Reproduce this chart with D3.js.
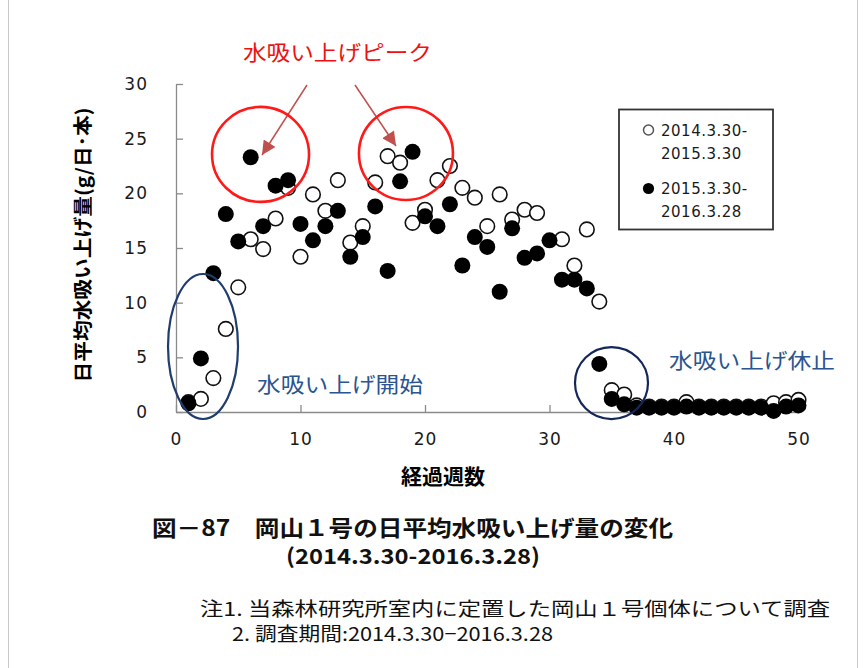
<!DOCTYPE html>
<html>
<head>
<meta charset="utf-8">
<script src="https://cdn.jsdelivr.net/npm/d3@7"></script>
<style>
  body { margin: 0; background: #ffffff; }
  svg { display: block; }
</style>
</head>
<body>
<div id="chart"></div>
<script>
// Weeks since start (経過週数)
const weeks = [1, 2, 3, 4, 5, 6, 7, 8, 9, 10,
  11, 12, 13, 14, 15, 16, 17, 18, 19, 20,
  21, 22, 23, 24, 25, 26, 27, 28, 29, 30,
  31, 32, 33, 34, 35, 36, 37, 38, 39, 40,
  41, 42, 43, 44, 45, 46, 47, 48, 49, 50];

// 2014.3.30-2015.3.30 (open circles), g/日･本
const water2014 = [0.9, 1.2, 3.1, 7.6, 11.4, 15.8, 14.9, 17.7, 20.5, 14.2,
  19.9, 18.4, 21.2, 15.5, 17.0, 21.0, 23.4, 22.8, 17.3, 18.5,
  21.2, 22.5, 20.5, 19.6, 17.0, 19.9, 17.6, 18.5, 18.2, null,
  15.8, 13.4, 16.7, 10.1, 2.0, 1.6, 0.6, 0.5, 0.5, 0.5,
  0.9, 0.5, 0.5, 0.5, 0.5, 0.5, 0.5, 0.8, 0.9, 1.1];

// 2015.3.30-2016.3.28 (filled circles)
const water2015 = [0.8, 4.9, 12.7, 18.1, 15.6, 23.3, 17.0, 20.7, 21.2, 17.2,
  15.7, 17.0, 18.4, 14.2, 16.0, 18.8, 12.9, 21.1, 23.8, 17.9,
  17.0, 19.0, 13.4, 16.0, 15.1, 11.0, 16.8, 14.1, 14.5, 15.7,
  12.1, 12.1, 11.3, 4.4, 1.2, 0.7, 0.4, 0.4, 0.4, 0.4,
  0.5, 0.4, 0.4, 0.4, 0.4, 0.4, 0.4, 0.1, 0.5, 0.6];

const xTicks = [0, 10, 20, 30, 40, 50];
const yTicks = [0, 5, 10, 15, 20, 25, 30];
const legendLabels = [["2014.3.30-", "2015.3.30"], ["2015.3.30-", "2016.3.28"]];

const width = 865;
const height = 668;
const jpFont = "'Noto Sans CJK JP', sans-serif";
const numFont = "'DejaVu Sans', Verdana, sans-serif";
const blueNote = "#2b5591";

const svg = d3.select("#chart")
  .append("svg")
  .attr("width", width)
  .attr("height", height);

svg.append("rect").attr("width", width).attr("height", height).attr("fill", "#fff");

// faint frame of the figure
svg.append("line").attr("x1", 8.5).attr("x2", 8.5).attr("y1", 0).attr("y2", height).attr("stroke", "#c8c8c8");
svg.append("line").attr("x1", 857.5).attr("x2", 857.5).attr("y1", 0).attr("y2", height).attr("stroke", "#c8c8c8");

// scales
const x = d3.scaleLinear().domain([0, 50]).range([176, 798.5]);
const y = d3.scaleLinear().domain([0, 30]).range([412, 84]);

// axes (ticks point inward like the Excel chart)
const yAxis = svg.append("g")
  .attr("transform", `translate(${x(0)},0)`)
  .call(d3.axisLeft(y).tickValues(yTicks).tickSizeInner(-7).tickSizeOuter(0).tickPadding(28));

const xAxis = svg.append("g")
  .attr("transform", `translate(0,${y(0)})`)
  .call(d3.axisBottom(x).tickValues(xTicks).tickSizeInner(-7).tickSizeOuter(0).tickPadding(21));

[yAxis, xAxis].forEach(g => {
  g.selectAll("path, line").attr("stroke", "#8a8a8a").attr("stroke-width", 1.3);
  g.selectAll("text")
    .attr("fill", "#1a1a1a")
    .style("font-family", numFont)
    .style("font-size", "17px")
    .style("letter-spacing", "1px");
});

// axis titles
svg.append("text")
  .attr("x", 443)
  .attr("y", 484)
  .attr("text-anchor", "middle")
  .style("font-family", jpFont)
  .style("font-size", "21px")
  .style("font-weight", "bold")
  .text("経過週数");

svg.append("text")
  .attr("transform", "translate(90,245) rotate(-90)")
  .attr("text-anchor", "middle")
  .attr("textLength", 275)
  .attr("lengthAdjust", "spacingAndGlyphs")
  .style("font-family", jpFont)
  .style("font-size", "19px")
  .style("font-weight", "bold")
  .text("日平均水吸い上げ量(g/日･本)");

// data points: 2014 open first, 2015 filled on top
const pts2014 = weeks.map((w, i) => ({ w, v: water2014[i] })).filter(d => d.v !== null);
const pts2015 = weeks.map((w, i) => ({ w, v: water2015[i] })).filter(d => d.v !== null);

svg.append("g").selectAll("circle")
  .data(pts2014)
  .enter().append("circle")
  .attr("cx", d => x(d.w))
  .attr("cy", d => y(d.v))
  .attr("r", 7.3)
  .attr("fill", "#fff")
  .attr("stroke", "#111")
  .attr("stroke-width", 1.6);

svg.append("g").selectAll("circle")
  .data(pts2015)
  .enter().append("circle")
  .attr("cx", d => x(d.w))
  .attr("cy", d => y(d.v))
  .attr("r", 8)
  .attr("fill", "#000");

// legend
const legend = svg.append("g");
legend.append("rect")
  .attr("x", 619).attr("y", 109.5).attr("width", 154).attr("height", 120)
  .attr("fill", "#fff").attr("stroke", "#333").attr("stroke-width", 1.8);

legendLabels.forEach((lines, i) => {
  const top = 130 + i * 58.5;
  legend.append("circle")
    .attr("cx", 648.5).attr("cy", top)
    .attr("r", i === 0 ? 5 : 5.6)
    .attr("fill", i === 0 ? "#fff" : "#000")
    .attr("stroke", i === 0 ? "#555" : "none")
    .attr("stroke-width", 1.5);
  lines.forEach((t, j) => {
    legend.append("text")
      .attr("x", 661)
      .attr("y", top + j * 23 + 5.5)
      .attr("fill", "#1a1a1a")
      .style("font-family", numFont)
      .style("font-size", "15px")
      .style("letter-spacing", "0.5px")
      .text(t);
  });
});

// annotation: peaks
const annoRed = "#ff1a1a";
const arrowCol = "#c0504d";
svg.append("defs").append("marker")
  .attr("id", "head")
  .attr("viewBox", "0 0 10 10")
  .attr("refX", 10).attr("refY", 5)
  .attr("markerWidth", 15).attr("markerHeight", 14)
  .attr("markerUnits", "userSpaceOnUse")
  .attr("orient", "auto")
  .append("path").attr("d", "M0,0 L10,5 L0,10 Z").attr("fill", arrowCol);

svg.append("text")
  .attr("x", 243).attr("y", 60)
  .attr("textLength", 189)
  .attr("lengthAdjust", "spacingAndGlyphs")
  .attr("fill", "#ee1111")
  .style("font-family", jpFont)
  .style("font-size", "21px")
  .text("水吸い上げピーク");

[[307, 85, 262, 155], [355, 85, 396, 146]].forEach(a => {
  svg.append("line")
    .attr("x1", a[0]).attr("y1", a[1]).attr("x2", a[2]).attr("y2", a[3])
    .attr("stroke", arrowCol).attr("stroke-width", 1.5)
    .attr("marker-end", "url(#head)");
});

const ellipses = [
  { cx: 6.79, cy: 23.56, rx: 48.5, ry: 47.5, col: annoRed, sw: 2.6 },
  { cx: 18.47, cy: 23.65, rx: 47, ry: 46.5, col: annoRed, sw: 2.6 },
  { cx: 2.17, cy: 5.99, rx: 35, ry: 72.5, col: "#1f3d6e", sw: 2.2 },
  { cx: 34.98, cy: 2.65, rx: 36.5, ry: 36, col: "#14275a", sw: 2.2 }
];

svg.append("g").selectAll("ellipse")
  .data(ellipses)
  .enter().append("ellipse")
  .attr("cx", d => x(d.cx))
  .attr("cy", d => y(d.cy))
  .attr("rx", d => d.rx)
  .attr("ry", d => d.ry)
  .attr("fill", "none")
  .attr("stroke", d => d.col)
  .attr("stroke-width", d => d.sw);

svg.append("text")
  .attr("x", 257).attr("y", 392)
  .attr("textLength", 166)
  .attr("lengthAdjust", "spacingAndGlyphs")
  .attr("fill", blueNote)
  .style("font-family", jpFont)
  .style("font-size", "21px")
  .text("水吸い上げ開始");

svg.append("text")
  .attr("x", 669).attr("y", 368)
  .attr("textLength", 166)
  .attr("lengthAdjust", "spacingAndGlyphs")
  .attr("fill", blueNote)
  .style("font-family", jpFont)
  .style("font-size", "21px")
  .text("水吸い上げ休止");

// caption
svg.append("text")
  .attr("x", 152).attr("y", 536)
  .attr("textLength", 521)
  .attr("lengthAdjust", "spacingAndGlyphs")
  .style("font-family", jpFont)
  .style("font-size", "22px")
  .style("font-weight", "bold")
  .attr("fill", "#111")
  .text("図－87　岡山１号の日平均水吸い上げ量の変化");

svg.append("text")
  .attr("x", 286).attr("y", 564)
  .attr("textLength", 254)
  .attr("lengthAdjust", "spacingAndGlyphs")
  .style("font-family", jpFont)
  .style("font-size", "21px")
  .style("font-weight", "bold")
  .attr("fill", "#111")
  .text("(2014.3.30-2016.3.28)");

// notes
svg.append("text")
  .attr("x", 200).attr("y", 616)
  .attr("textLength", 630)
  .attr("lengthAdjust", "spacingAndGlyphs")
  .style("font-family", jpFont)
  .style("font-size", "19px")
  .attr("fill", "#111")
  .text("注1. 当森林研究所室内に定置した岡山１号個体について調査");

svg.append("text")
  .attr("x", 232).attr("y", 641)
  .attr("textLength", 321)
  .attr("lengthAdjust", "spacingAndGlyphs")
  .style("font-family", jpFont)
  .style("font-size", "19px")
  .attr("fill", "#111")
  .text("2. 調査期間:2014.3.30−2016.3.28");
</script>
</body>
</html>
